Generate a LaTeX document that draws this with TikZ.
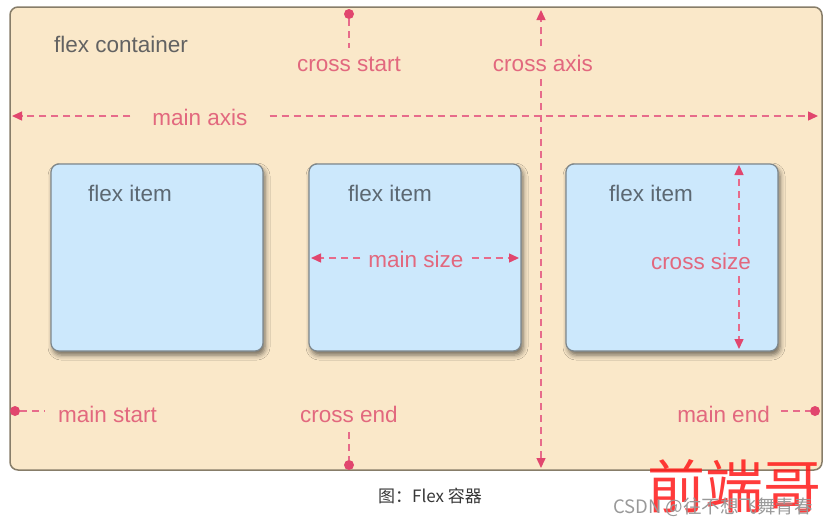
\documentclass[tikz,border=0pt]{standalone}
\usepackage{fontspec}
\setmainfont{Liberation Sans}
\newfontfamily\cjkfont{Noto Sans CJK SC}
\usetikzlibrary{arrows.meta, shadows.blur}

\definecolor{containerfill}{RGB}{250,232,201}
\definecolor{containerdraw}{RGB}{135,125,105}
\definecolor{itemfill}{RGB}{204,232,252}
\definecolor{itemdraw}{RGB}{125,135,140}
\definecolor{greytext}{RGB}{98,98,98}
\definecolor{itemgrey}{RGB}{92,104,114}
\definecolor{pinktext}{RGB}{226,104,126}
\definecolor{arrowred}{RGB}{225,70,110}
\definecolor{captiongrey}{RGB}{55,55,55}

\begin{document}
\begin{tikzpicture}[x = 1pt, y = -1pt, > = {Triangle[length = 10pt, width = 9pt, color = arrowred]}]

	% Definition
	
	\def\fs{\fontsize{22.5}{26}\selectfont}
	
	\tikzset{
		container/.style = {draw = containerdraw, line width = 1.5pt, fill = containerfill, rounded corners = 8pt, minimum width = 812pt, minimum height = 463pt, inner sep = 0},
		flexitem/.style = {draw = itemdraw, line width = 1.2pt, fill = itemfill, rounded corners = 8pt, minimum width = 212pt, minimum height = 187pt, inner sep = 0, blur shadow = {shadow xshift = 2pt, shadow yshift = -4pt, shadow blur radius = 5pt, shadow opacity = 55}},
		itemlabel/.style = {font = \fs, text = itemgrey, anchor = base, inner sep = 0},
		axislabel/.style = {font = \fs, text = pinktext, anchor = base},
		axisline/.style = {draw = arrowred!80, line width = 1.4pt, dash pattern = on 7pt off 5pt},
		reddot/.style = {circle, fill = arrowred, minimum size = 10pt, inner sep = 0}
	}
	
	\useasboundingbox (0, 0) rectangle (834, 525);
	
	% Flex container
	
	\node [container] (container) at (416, 238.5) {};
	\node [font = \fs, text = greytext, anchor = base west, inner sep = 0] (containerlabel) at (54, 52) {flex container};
	
	% Flex items
	
	\foreach \n/\x/\lx in {1/157/130, 2/415/390, 3/672/651}
	{
		\node [flexitem] (item\n) at (\x, 257.5) {};
		\node [itemlabel] (itemlabel\n) at (\lx, 201) {flex item};
	}
	
	% Main axis and cross axis
	
	\coordinate (axisW) at (12, 116);
	\coordinate (axisE) at (818, 116);
	\coordinate (axisN) at (541, 10);
	\coordinate (axisS) at (541, 468);
	
	\node [axislabel, inner xsep = 22pt] (mainaxis) at (200, 125) {main axis};
	\node [axislabel, inner ysep = 8pt] (crossaxis) at (543, 71) {cross axis};
	
	\draw [axisline, ->] (axisW -| mainaxis.west) -- (axisW);
	\draw [axisline, ->] (axisE -| mainaxis.east) -- (axisE);
	\draw [axisline, ->] (axisN |- crossaxis.north) -- (axisN);
	\draw [axisline, ->] (axisS |- crossaxis.south) -- (axisS);
	
	% Start and end
	
	\node [reddot] (crossstartdot) at (349, 14) {};
	\node [axislabel, inner ysep = 8pt] (crossstart) at (349, 71) {cross start};
	\draw [axisline] (crossstartdot) -- (crossstart);
	
	\node [axislabel, inner ysep = 10pt] (crossend) at (349, 422) {cross end};
	\node [reddot] (crossenddot) at (349, 465) {};
	\draw [axisline] (crossend) -- (crossenddot);
	
	\node [reddot] (mainstartdot) at (15, 411) {};
	\node [axislabel, anchor = base west, inner xsep = 13pt] (mainstart) at (45, 422) {main start};
	\draw [axisline] (mainstartdot) -- (mainstartdot -| mainstart.west);
	
	\node [axislabel, anchor = base east, inner xsep = 11pt] (mainend) at (781, 422) {main end};
	\node [reddot] (mainenddot) at (815, 411) {};
	\draw [axisline] (mainenddot -| mainend.east) -- (mainenddot);
	
	% Main size and cross size
	
	\coordinate (sizeW) at (311, 258);
	\coordinate (sizeE) at (519, 258);
	\node [axislabel, inner xsep = 8pt] (mainsize) at (416, 267) {main size};
	\draw [axisline, ->] (sizeW -| mainsize.west) -- (sizeW);
	\draw [axisline, ->] (sizeE -| mainsize.east) -- (sizeE);
	
	\coordinate (sizeN) at (739, 165);
	\coordinate (sizeS) at (739, 349);
	\node [axislabel, inner ysep = 7pt] (crosssize) at (701, 269) {cross size};
	\draw [axisline, ->] (sizeN |- crosssize.north) -- (sizeN);
	\draw [axisline, ->] (sizeS |- crosssize.south) -- (sizeS);
	
	% Caption and watermark
	
	\node [font = \cjkfont\fontsize{17}{20}\selectfont, text = captiongrey] (caption) at (430, 496) {图：Flex 容器};
	\node [font = \cjkfont\fontsize{58}{64}\selectfont, text = red!90, opacity = 0.85] (watermark) at (734, 486) {前端哥};
	\node [font = \cjkfont\fontsize{18.5}{22}\selectfont, text = black!40] (csdn) at (713, 507) {CSDN @往不想飞舞青春};

\end{tikzpicture}
\end{document}
